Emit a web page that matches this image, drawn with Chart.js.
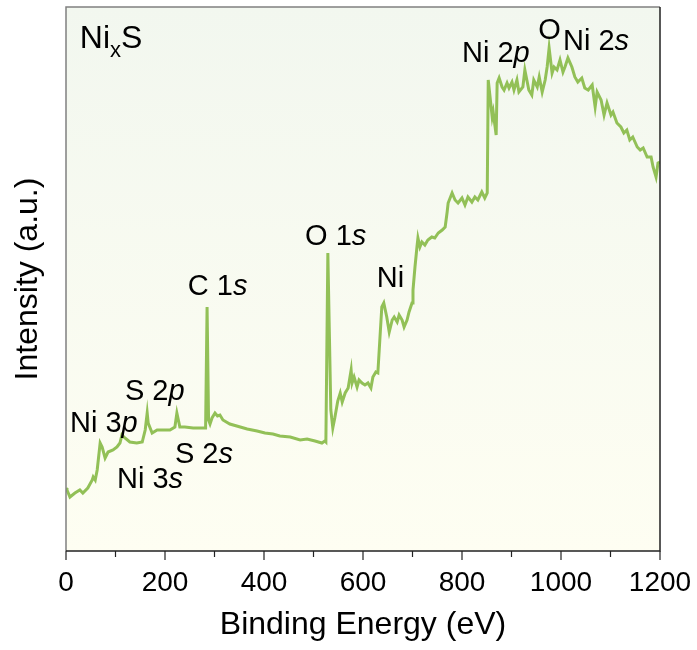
<!DOCTYPE html>
<html>
<head>
<meta charset="utf-8">
<script src="https://cdn.jsdelivr.net/npm/chart.js@4"></script>
<style>
  html, body { margin: 0; padding: 0; background: #ffffff; }
  #wrap { width: 697px; height: 650px; }
</style>
</head>
<body>
<div id="wrap"><canvas id="xpsChart"></canvas></div>
<script>
// binding energy (eV) and survey intensity (a.u.)
const energies = [0, 2, 8, 18, 28, 34, 44, 53, 55, 59, 63, 69, 73, 79, 85, 95, 103, 109, 113, 119,
    129, 143, 154, 160, 164, 166, 174, 184, 196, 210, 220, 224, 230, 240, 257, 271, 282, 285, 288, 291,
    295, 301, 306, 311, 317, 331, 352, 366, 386, 402, 418, 432, 453, 473, 487, 503, 517, 523, 525, 529,
    530, 535, 539, 543, 549, 554, 558, 564, 570, 576, 578, 582, 588, 592, 598, 604, 610, 616, 620, 626,
    630, 638, 642, 648, 653, 659, 663, 669, 673, 679, 683, 689, 693, 699, 701, 705, 709, 711, 715, 719,
    725, 731, 739, 745, 752, 760, 766, 770, 772, 780, 786, 792, 800, 806, 812, 820, 826, 832, 840, 846,
    851, 853, 861, 863, 869, 871, 875, 881, 885, 891, 895, 901, 905, 911, 915, 923, 927, 931, 935, 941,
    945, 952, 956, 962, 968, 972, 976, 982, 986, 992, 998, 1004, 1008, 1014, 1022, 1028, 1034, 1042, 1048, 1055,
    1063, 1069, 1073, 1081, 1087, 1093, 1101, 1105, 1113, 1121, 1127, 1133, 1139, 1145, 1154, 1160, 1166, 1174, 1182, 1186,
    1192, 1196, 1200]
const intensity = [63, 61, 54, 58, 61, 58, 63, 71, 74, 71, 81, 108, 104, 93, 99, 101, 104, 108, 116, 113,
    109, 108, 109, 121, 138, 128, 118, 121, 121, 121, 124, 138, 124, 124, 123, 123, 123, 244, 131, 127,
    133, 138, 135, 136, 131, 127, 124, 122, 120, 118, 117, 115, 114, 111, 112, 110, 108, 110, 109, 298,
    271, 141, 123, 133, 150, 158, 149, 158, 163, 181, 168, 174, 164, 171, 168, 166, 168, 163, 174, 179,
    178, 244, 248, 234, 219, 231, 234, 229, 236, 231, 224, 231, 239, 248, 261, 284, 304, 313, 304, 309,
    306, 311, 314, 313, 318, 321, 324, 339, 348, 358, 351, 348, 353, 346, 354, 349, 354, 351, 359, 353,
    358, 471, 434, 439, 416, 468, 473, 464, 461, 468, 463, 469, 461, 471, 459, 464, 481, 471, 461, 456,
    471, 464, 474, 459, 471, 484, 503, 478, 484, 481, 491, 479, 484, 493, 484, 474, 469, 473, 463, 461,
    466, 444, 459, 451, 436, 448, 436, 439, 428, 424, 418, 421, 411, 414, 404, 401, 403, 394, 394, 384,
    374, 388, 389]

const xTicks = [0, 200, 400, 600, 800, 1000, 1200]

// peak labels: [text parts, energy, intensity]; part = [text, italic, subscript]
const peakLabels = [
    [[['Ni', false], ['x', false, true], ['S', false]], 28, 503],
    [[['Ni 3', false], ['p', true]], 8, 119],
    [[['S 2', false], ['p', true]], 119, 151],
    [[['Ni 3', false], ['s', true]], 103, 63],
    [[['S 2', false], ['s', true]], 220, 88],
    [[['C 1', false], ['s', true]], 246, 256],
    [[['O 1', false], ['s', true]], 483, 306],
    [[['Ni', false]], 628, 264],
    [[['Ni 2', false], ['p', true]], 800, 489],
    [[['O', false]], 954, 512],
    [[['Ni 2', false], ['s', true]], 1004, 501]
]

const FONT = '"Liberation Sans", Arial, sans-serif'

const framePlugin = {
    id: 'frame',
    beforeDatasetsDraw(chart) {
        const { ctx, chartArea: a } = chart
        const g = ctx.createLinearGradient(0, a.top, 0, a.bottom)
        g.addColorStop(0, '#f2f7ef')
        g.addColorStop(1, '#fefef2')
        ctx.save()
        ctx.fillStyle = g
        ctx.fillRect(a.left, a.top, a.right - a.left, a.bottom - a.top)
        ctx.restore()
    },
    afterDraw(chart) {
        const { ctx, chartArea: a } = chart
        const xs = chart.scales.x
        const ys = chart.scales.y
        ctx.save()
        ctx.lineWidth = 1.5
        ctx.strokeStyle = '#808080'
        ctx.beginPath()
        ctx.moveTo(a.left, a.bottom)
        ctx.lineTo(a.left, a.top)
        ctx.lineTo(a.right, a.top)
        ctx.stroke()
        ctx.strokeStyle = '#222'
        ctx.beginPath()
        ctx.moveTo(a.right, a.top)
        ctx.lineTo(a.right, a.bottom)
        ctx.lineTo(a.left, a.bottom)
        ctx.stroke()
        // major and minor ticks, outward
        ctx.lineWidth = 1.2
        for (let v = 0; v <= 1200; v += 100) {
            const px = xs.getPixelForValue(v)
            const len = v % 200 === 0 ? 9 : 6
            ctx.beginPath()
            ctx.moveTo(px, a.bottom)
            ctx.lineTo(px, a.bottom + len)
            ctx.stroke()
        }
        // peak labels
        ctx.fillStyle = '#000'
        ctx.textBaseline = 'alphabetic'
        ctx.textAlign = 'left'
        peakLabels.forEach(([parts, e, i], n) => {
            let px = xs.getPixelForValue(e)
            const py = ys.getPixelForValue(i)
            const base = n === 0 ? 32 : 29
            parts.forEach(([t, it, sub]) => {
                const size = sub ? 22 : base
                ctx.font = (it ? 'italic ' : '') + size + 'px ' + FONT
                ctx.fillText(t, px, sub ? py + 9 : py)
                px += ctx.measureText(t).width
            })
        })
        ctx.restore()
    }
}

const ctx = document.getElementById('xpsChart')
const chart = new Chart(ctx, {
    type: 'line',
    data: {
        datasets: [{
            label: 'NixS',
            data: energies.map((e, k) => ({ x: e, y: intensity[k] })),
            borderColor: '#92c057',
            borderWidth: 3,
            pointRadius: 0,
            tension: 0,
            fill: false
        }]
    },
    options: {
        responsive: true,
        maintainAspectRatio: false,
        animation: false,
        layout: { padding: { top: 7, right: 37, left: 0, bottom: 0 } },
        plugins: { legend: { display: false }, tooltip: { enabled: false } },
        scales: {
            x: {
                type: 'linear',
                min: 0,
                max: 1200,
                grid: { display: false, drawTicks: false },
                border: { display: false },
                afterBuildTicks: (s) => { s.ticks = xTicks.map(v => ({ value: v })) },
                afterFit: (s) => {
                    s.height = 99
                    s.paddingLeft = 0
                    s.paddingRight = 0
                },
                ticks: {
                    color: '#000',
                    padding: 15,
                    maxRotation: 0,
                    autoSkip: false,
                    callback: (v) => String(v),
                    font: { family: FONT, size: 28 }
                },
                title: {
                    display: true,
                    text: 'Binding Energy (eV)',
                    color: '#000',
                    padding: { top: 0, bottom: 6 },
                    font: { family: FONT, size: 32 }
                }
            },
            y: {
                min: 0,
                max: 544,
                grid: { display: false, drawTicks: false },
                border: { display: false },
                ticks: { display: false },
                afterFit: (s) => {
                    s.width = 66
                    s.paddingTop = 0
                    s.paddingBottom = 0
                },
                title: {
                    display: true,
                    text: 'Intensity (a.u.)',
                    color: '#000',
                    padding: { top: 9, bottom: 0 },
                    font: { family: FONT, size: 32 }
                }
            }
        }
    },
    plugins: [framePlugin]
})
</script>
</body>
</html>
